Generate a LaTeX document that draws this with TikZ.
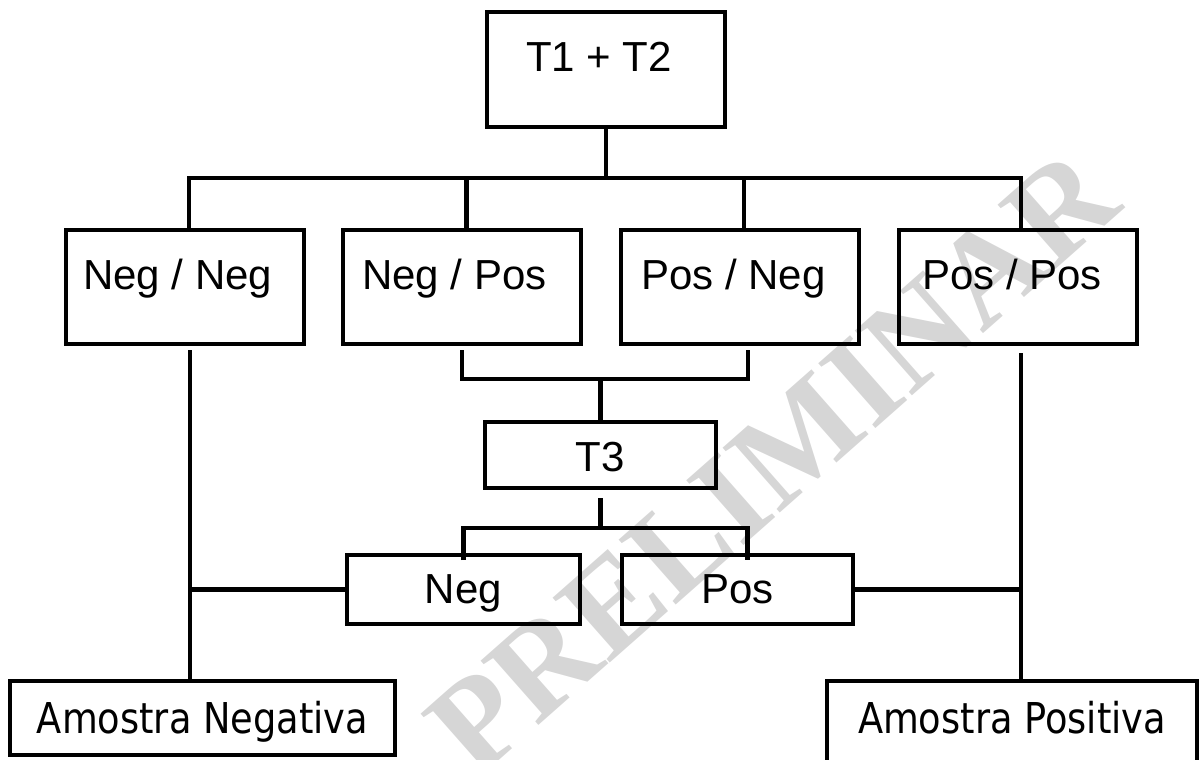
\documentclass[tikz,border=0pt]{standalone}
\usepackage{fontspec}
\setmainfont{Liberation Sans}
\newfontfamily\tahfont[FakeStretch=0.865]{DejaVu Sans}
\newfontfamily\wmfont{Liberation Serif}
\newcommand\lbx[3]{\makebox[#1][l]{\hspace*{#2}#3}}
\begin{document}
\begin{tikzpicture}[x=1pt,y=-1pt,
  box/.style={draw, line width=4.3pt, rectangle, inner sep=0pt, outer sep=0pt,
    anchor=north west, font=\fontsize{42}{50}\selectfont},
  rowbox/.style={box, minimum width=238pt, minimum height=114pt, text height=30pt, text depth=26pt},
  smallbox/.style={box, minimum height=69pt, text height=30pt, text depth=3pt},
  amostra/.style={box, font=\tahfont\fontsize{42.5}{50}\selectfont},
  conn/.style={line width=4.3pt},
  watermark/.style={rotate=41.4, text=gray!32, inner sep=0pt, font=\wmfont\bfseries\fontsize{132}{140}\selectfont}]
\useasboundingbox (0,0) rectangle (1199,760);
\clip (0,0) rectangle (1199,760);

% watermark
\node[watermark] (wm) at (772,462) {PRELIMINAR};

% boxes
\node[box, minimum width=238pt, minimum height=115pt, text height=30pt, text depth=27pt]
  (t12) at (487,12) {\lbx{238pt}{39pt}{T1 + T2}};
\node[rowbox] (nn) at (66,230)  {\lbx{238pt}{17pt}{Neg / Neg}};
\node[rowbox] (np) at (343,230) {\lbx{238pt}{19pt}{Neg / Pos}};
\node[rowbox] (pn) at (621,230) {\lbx{238pt}{20pt}{Pos / Neg}};
\node[rowbox] (pp) at (899,230) {\lbx{238pt}{23pt}{Pos / Pos}};
\node[box, minimum height=66pt, text height=32pt, text depth=0pt]
  (t3) at (485,422) {\makebox[231pt]{T3}};
\node[smallbox] (ng) at (347,555) {\makebox[233pt]{Neg}};
\node[smallbox] (po) at (622,555) {\makebox[231pt]{Pos}};
\node[amostra, minimum height=74pt, text height=32pt, text depth=2pt]
  (an) at (10,681) {\makebox[385pt]{Amostra Negativa}};
\node[amostra, minimum height=119pt, text height=32pt, text depth=47pt]
  (ap) at (827,681) {\makebox[370pt]{Amostra Positiva}};

% first level
\coordinate (busA) at (0,178);
\draw[conn] (t12.south) -- (t12.south |- busA);
\draw[conn] ([xshift=4pt]nn.north) |- ([xshift=3pt]pp.north |- busA) -- ([xshift=3pt]pp.north);
\draw[conn] ([xshift=4.5pt]np.north) -- ([xshift=4.5pt]np.north |- busA);
\draw[conn] ([xshift=4pt]pn.north) -- ([xshift=4pt]pn.north |- busA);

% to T3
\coordinate (busB) at (0,379);
\draw[conn] ([yshift=-6pt]np.south) |- ([xshift=8pt]pn.south |- busB) -- ([xshift=8pt,yshift=-6pt]pn.south);
\draw[conn] (t3.north) -- (t3.north |- busB);

% from T3
\coordinate (busC) at (0,528);
\draw[conn] ([yshift=-10pt]t3.south) -- (t3.south |- busC);
\draw[conn] ([yshift=-5pt]ng.north) |- ([xshift=10pt]po.north |- busC) -- ([xshift=10pt,yshift=-5pt]po.north);

% to samples
\coordinate (lv) at ([xshift=5pt,yshift=-6pt]nn.south);
\coordinate (rv) at ([xshift=3pt,yshift=-9pt]pp.south);
\draw[conn] (lv) -- (lv |- an.north);
\draw[conn] (ng.west) -- (ng.west -| lv);
\draw[conn] (rv) -- (rv |- ap.north);
\draw[conn] (po.east) -- (po.east -| rv);
\end{tikzpicture}
\end{document}
